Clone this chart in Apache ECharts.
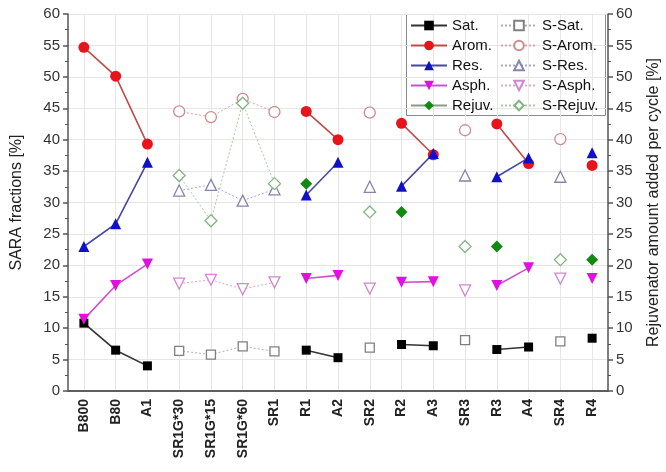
<!DOCTYPE html>
<html><head><meta charset="utf-8">
<script src="https://cdn.jsdelivr.net/npm/echarts@6/dist/echarts.min.js"></script>
<style>html,body{margin:0;padding:0;background:#fff}#c{width:666px;height:472px}</style>
</head><body><div id="c"></div>
<script>
const categories = ['B800','B80','A1','SR1G*30','SR1G*15','SR1G*60','SR1','R1','A2','SR2','R2','A3','SR3','R3','A4','SR4','R4'];
const sat   = [10.8, 6.5, 4.0, null, null, null, null, 6.5, 5.3, null, 7.4, 7.2, null, 6.6, 7.0, null, 8.4];
const arom  = [54.7, 50.1, 39.3, null, null, null, null, 44.5, 40.0, null, 42.6, 37.6, null, 42.5, 36.2, null, 35.9];
const res   = [23.0, 26.6, 36.4, null, null, null, null, 31.2, 36.4, null, 32.6, 37.8, null, 34.1, 37.1, null, 37.9];
const asph  = [11.4, 16.8, 20.2, null, null, null, null, 17.9, 18.4, null, 17.3, 17.4, null, 16.8, 19.6, null, 17.9];
const rejuv = [null, null, null, null, null, null, null, 33.0, null, null, 28.5, null, null, 23.0, null, null, 20.9];
const sSat   = [null, null, null, 6.4, 5.8, 7.1, 6.3, null, null, 6.9, null, null, 8.1, null, null, 7.9, null];
const sArom  = [null, null, null, 44.5, 43.6, 46.5, 44.4, null, null, 44.3, null, null, 41.5, null, null, 40.1, null];
const sRes   = [null, null, null, 31.9, 32.8, 30.3, 32.1, null, null, 32.5, null, null, 34.3, null, null, 34.1, null];
const sAsph  = [null, null, null, 17.1, 17.7, 16.2, 17.3, null, null, 16.3, null, null, 16.0, null, null, 17.9, null];
const sRejuv = [null, null, null, 34.3, 27.1, 45.8, 33.0, null, null, 28.5, null, null, 23.0, null, null, 20.9, null];
const yTicks = {min: 0, max: 60, interval: 5};

const FONT = '"Liberation Sans", Arial, sans-serif';
const chart = echarts.init(document.getElementById('c'), null, {renderer: 'canvas'});

function solid(name, data, fill, line, symbol, size, yIdx) {
  return {name, type: 'line', data, yAxisIndex: yIdx || 0, symbol, symbolSize: size,
    connectNulls: false,
    itemStyle: {color: fill, borderColor: fill, borderWidth: 0},
    lineStyle: {color: line, width: 1.6},
    z: 5};
}
function hollow(name, data, stroke, line, symbol, size, yIdx) {
  return {name, type: 'line', data, yAxisIndex: yIdx || 0, symbol, symbolSize: size,
    connectNulls: false,
    itemStyle: {color: '#fff', borderColor: stroke, borderWidth: 1.3},
    lineStyle: {color: line, width: 1, type: [2, 2]},
    z: 4};
}

const series = [
  solid('Sat.', sat, '#000000', '#333333', 'rect', 9),
  solid('Arom.', arom, '#e8141c', '#c24a4a', 'circle', 11),
  solid('Res.', res, '#1010c8', '#4646a6', 'triangle', 11),
  solid('Asph.', asph, '#e010e0', '#d04ed0', 'path://M0,0 L10,0 L5,9 Z', 11),
  solid('Rejuv.', rejuv, '#108a10', '#8a9a8a', 'diamond', 12, 1),
  hollow('S-Sat.', sSat, '#808080', '#b0b0b0', 'rect', 9),
  hollow('S-Arom.', sArom, '#d08c8c', '#d4a8a8', 'circle', 11),
  hollow('S-Res.', sRes, '#8484ac', '#a8a8c8', 'triangle', 11),
  hollow('S-Asph.', sAsph, '#d088d0', '#d8a8d8', 'path://M0,0 L10,0 L5,9 Z', 11),
  hollow('S-Rejuv.', sRejuv, '#84b484', '#a8c8a8', 'diamond', 12, 1)
];

const legendBase = {orient: 'vertical', itemWidth: 36, itemHeight: 12, itemGap: 5,
  textStyle: {fontFamily: FONT, fontSize: 15, color: '#111'}, padding: 0, selectedMode: false};

const axisLineStyle = {color: '#555', width: 1.5};

chart.setOption({
  animation: false,
  backgroundColor: '#fff',
  grid: {left: 68, right: 58, top: 14, bottom: 81, containLabel: false, outerBoundsMode: 'none'},
  legend: [
    Object.assign({}, legendBase, {left: 410, top: 18, data: ['Sat.','Arom.','Res.','Asph.','Rejuv.']}),
    Object.assign({}, legendBase, {left: 500, top: 18, data: ['S-Sat.','S-Arom.','S-Res.','S-Asph.','S-Rejuv.']})
  ],
  graphic: [{type: 'rect', left: 406, top: 14, shape: {width: 199, height: 101},
    style: {fill: 'rgba(255,255,255,0.9)', stroke: '#8a8a8a', lineWidth: 1}, z: 0, silent: true}],
  xAxis: [{
    type: 'category', data: categories, position: 'bottom', boundaryGap: true,
    axisLine: {lineStyle: axisLineStyle},
    axisTick: {alignWithLabel: true, inside: false, length: 5, lineStyle: {color: '#555', width: 1.5}},
    splitLine: {show: true, alignWithLabel: true, lineStyle: {color: '#e6e6e6', width: 1}},
    axisLabel: {rotate: 90, fontFamily: FONT, fontSize: 14, fontWeight: 'bold', color: '#222', margin: 8}
  }, {
    type: 'category', data: categories, position: 'top', boundaryGap: true,
    axisLine: {lineStyle: axisLineStyle},
    axisTick: {alignWithLabel: true, inside: true, length: 5, lineStyle: {color: '#555', width: 1.5}},
    axisLabel: {show: false}, splitLine: {show: false}
  }],
  yAxis: [{
    type: 'value', min: yTicks.min, max: yTicks.max, interval: yTicks.interval, position: 'left',
    name: 'SARA fractions [%]', nameLocation: 'middle', nameGap: 43,
    nameTextStyle: {fontFamily: FONT, fontSize: 16, color: '#222'},
    axisLine: {show: true, lineStyle: axisLineStyle},
    axisTick: {show: true, length: 5, lineStyle: {color: '#555', width: 1.5}},
    minorTick: {show: true, splitNumber: 2, length: 3, lineStyle: {color: '#555', width: 1}},
    splitLine: {show: true, lineStyle: {color: '#e6e6e6', width: 1}},
    axisLabel: {fontFamily: FONT, fontSize: 15, color: '#333', margin: 8}
  }, {
    type: 'value', min: yTicks.min, max: yTicks.max, interval: yTicks.interval, position: 'right',
    name: 'Rejuvenator amount added per cycle [%]', nameLocation: 'middle', nameGap: 38, nameRotate: 90,
    nameTextStyle: {fontFamily: FONT, fontSize: 16, color: '#222'},
    axisLine: {show: true, lineStyle: axisLineStyle},
    axisTick: {show: true, length: 5, lineStyle: {color: '#555', width: 1.5}},
    minorTick: {show: true, splitNumber: 2, length: 3, lineStyle: {color: '#555', width: 1}},
    splitLine: {show: false},
    axisLabel: {fontFamily: FONT, fontSize: 15, color: '#333', margin: 8}
  }],
  series
});
</script>
</body></html>
